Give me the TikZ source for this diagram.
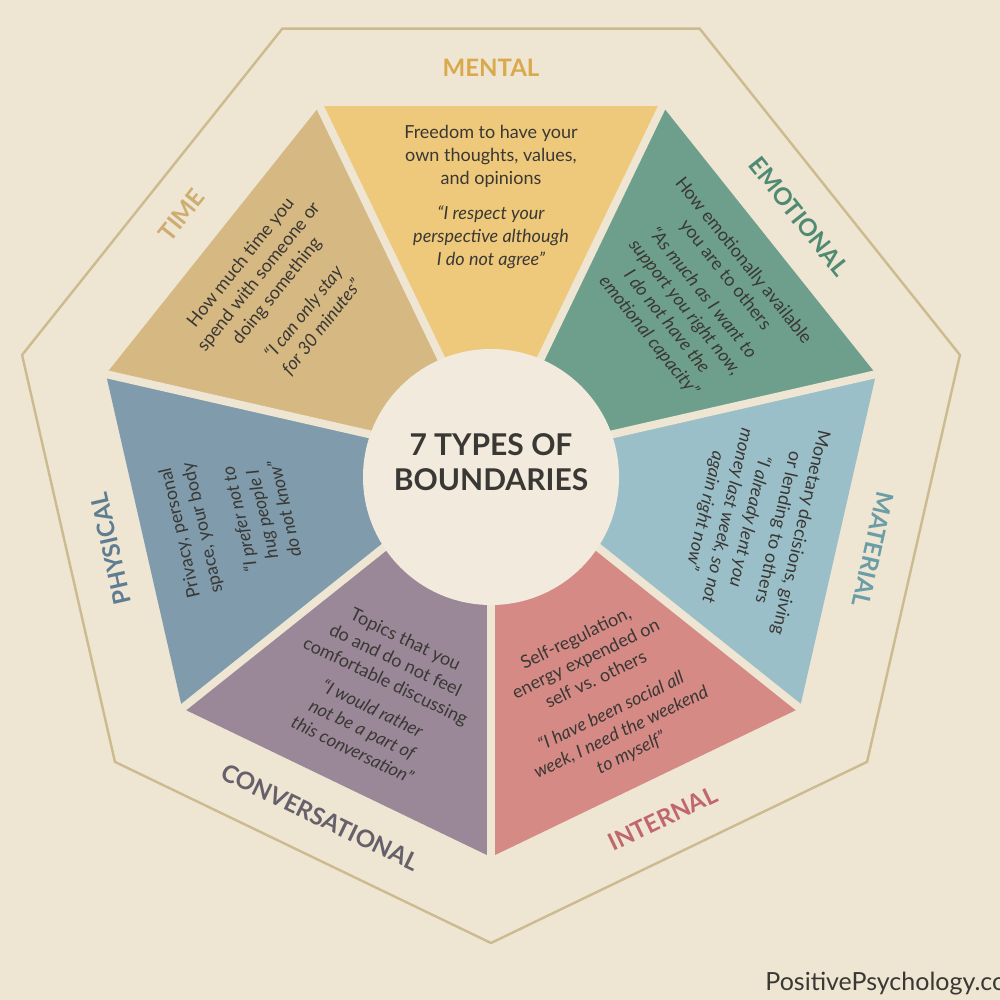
\documentclass[tikz,border=0pt]{standalone}
\usepackage{fontspec}
\setmainfont{Lato}
\definecolor{bgcol}{HTML}{EEE5D3}
\definecolor{circlecol}{HTML}{F2EBDD}
\definecolor{framecol}{HTML}{CBBB8E}
\definecolor{inkcol}{HTML}{3A3834}
\definecolor{mentalcol}{HTML}{EEC97B}
\definecolor{emotcol}{HTML}{6E9F8D}
\definecolor{matcol}{HTML}{9BBFC8}
\definecolor{intcol}{HTML}{D68A86}
\definecolor{convcol}{HTML}{9A8898}
\definecolor{physcol}{HTML}{7F9BAC}
\definecolor{timecol}{HTML}{D6B882}
\definecolor{mentallbl}{HTML}{D9A94C}
\definecolor{emotlbl}{HTML}{4F8A73}
\definecolor{matlbl}{HTML}{6B9DA7}
\definecolor{intlbl}{HTML}{C0676B}
\definecolor{convlbl}{HTML}{66606B}
\definecolor{physlbl}{HTML}{5E7D90}
\definecolor{timelbl}{HTML}{CDAE70}
\begin{document}
\begin{tikzpicture}[x=0.5pt, y=0.5pt,
    bodytext/.style={align=center, text=inkcol, inner sep=0pt, font=\fontsize{9}{11.5}\selectfont},
    lbl/.style={inner sep=0pt, font=\fontsize{12}{14}\selectfont\bfseries}]
  % Bildausschnitt und Hintergrund
  \useasboundingbox (-491,-538) rectangle (509,462);
  \clip (-491,-538) rectangle (509,462);
  \fill[bgcol] (-491,-538) rectangle (509,462);
  % Aeusserer Rahmen (Siebeneck)
  \draw[framecol, line width=1.2pt] (-90:481) \foreach \k in {1,...,6}{ -- ({-90+\k*360/7}:481) } -- cycle;
  % Farbige Segmente, gegen den Uhrzeigersinn ab unten
  \foreach \a/\c in {-90/intcol, -38.5714/matcol, 12.8571/emotcol, 64.2857/mentalcol, 115.7143/timecol, 167.1429/physcol, 218.5714/convcol}{
    \fill[\c] (0,0) -- (\a:395) -- ({\a+360/7}:395) -- cycle;
  }
  % Trennfugen zwischen den Segmenten
  \foreach \k in {0,...,6}{ \draw[bgcol, line width=4pt] (0,0) -- ({-90+\k*360/7}:400); }
  % Mittelkreis mit Titel
  \fill[circlecol] (0,-15) circle (128);
  \node[align=center, text=inkcol, inner sep=0pt, font=\fontsize{15}{17.5}\selectfont\bfseries] (title) at (0,0) {7 TYPES OF\\BOUNDARIES};
  % Beschreibungen in den Segmenten (Zitat kursiv)
  \node[bodytext] (mentaltext) at (90:265) {Freedom to have your\\own thoughts, values,\\and opinions\\[6pt]\itshape “I respect your\\\itshape perspective although\\\itshape I do not agree”};
  \node[bodytext, rotate=-51.43] (emottext) at (38.57:262) {How emotionally available\\you are to others\\[3pt]\itshape “As much as I want to\\\itshape support you right now,\\\itshape I do not have the\\\itshape emotional capacity”};
  \node[bodytext, rotate=-102.86] (mattext) at (-12.86:268) {Monetary decisions, giving\\or lending to others\\[3pt]\itshape “I already lent you\\\itshape money last week, so not\\\itshape again right now”};
  \node[bodytext, rotate=25.71] (inttext) at (-64.29:260) {Self-regulation,\\energy expended on\\self vs. others\\[6pt]\itshape “I have been social all\\\itshape week, I need the weekend\\\itshape to myself”};
  \node[bodytext, rotate=-25.71] (convtext) at (244.29:258) {Topics that you\\do and do not feel\\comfortable discussing\\[4pt]\itshape “I would rather\\\itshape not be a part of\\\itshape this conversation”};
  \node[bodytext, rotate=102.86] (phystext) at (192.86:266) {Privacy, personal\\space, your body\\[8pt]\itshape “I prefer not to\\\itshape hug people I\\\itshape do not know”};
  \node[bodytext, rotate=51.43] (timetext) at (141.43:268) {How much time you\\spend with someone or\\doing something\\[6pt]\itshape “I can only stay\\\itshape for 30 minutes”};
  % Bezeichnungen aussen
  \node[lbl, text=mentallbl] (mentallabel) at (90:394) {MENTAL};
  \node[lbl, text=emotlbl, rotate=-51.43] (emotlabel) at (38.57:394) {EMOTIONAL};
  \node[lbl, text=matlbl, rotate=-102.86] (matlabel) at (-12.86:392) {MATERIAL};
  \node[lbl, text=intlbl, rotate=25.71] (intlabel) at (-64.29:396) {INTERNAL};
  \node[lbl, text=convlbl, rotate=-25.71] (convlabel) at (244.29:394) {CONVERSATIONAL};
  \node[lbl, text=physlbl, rotate=102.86] (physlabel) at (192.86:390) {PHYSICAL};
  \node[lbl, text=timelbl, rotate=51.43] (timelabel) at (141.43:396) {TIME};
  % Quelle unten rechts (am Rand abgeschnitten)
  \node[anchor=base west, inner sep=0pt, text=inkcol, font=\fontsize{12.5}{14}\selectfont] (brand) at (274,-528) {PositivePsychology.co};
\end{tikzpicture}
\end{document}
